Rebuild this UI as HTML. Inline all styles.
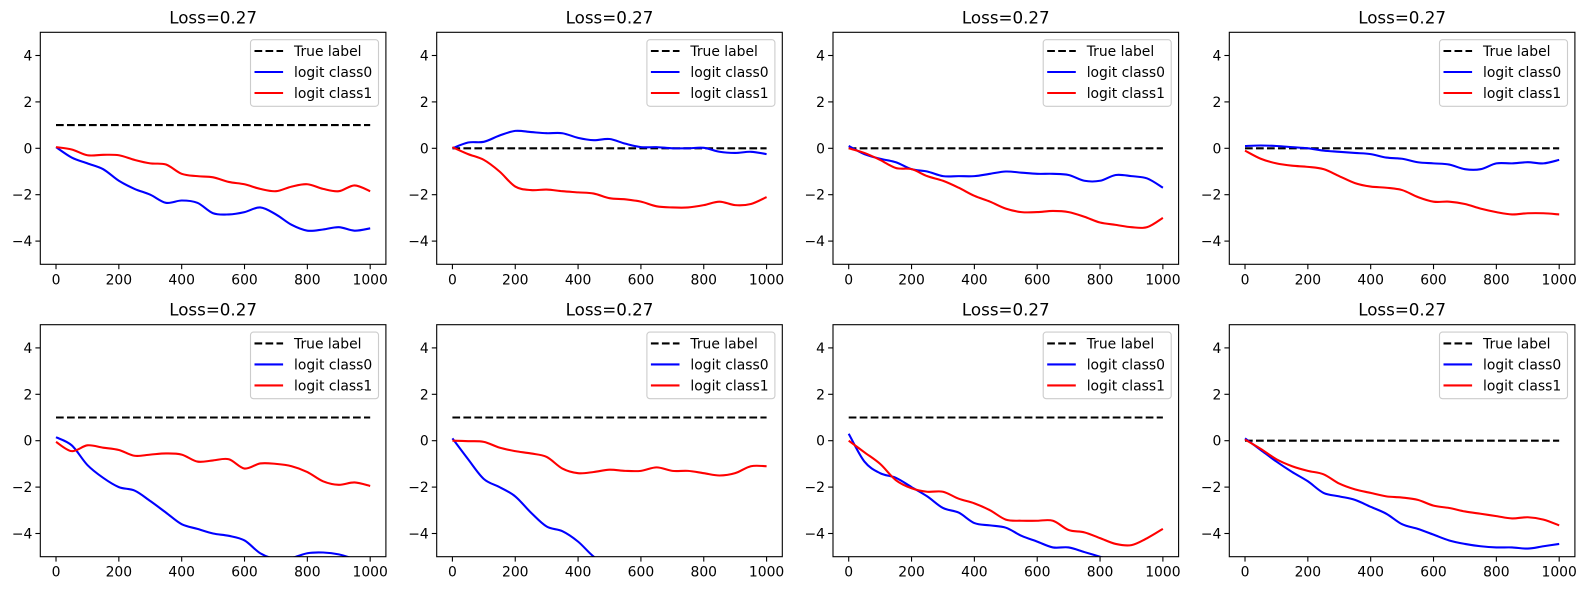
<!DOCTYPE html>
<html><head><meta charset="utf-8"><style>
html,body{margin:0;padding:0;background:#fff;width:1586px;height:590px;overflow:hidden;}
svg{display:block;overflow:hidden;font-family:"DejaVu Sans","Liberation Sans",sans-serif;}
</style></head><body>
<svg id="fig" width="1586" height="590" viewBox="0 0 1586 590" xmlns="http://www.w3.org/2000/svg"></svg>
<script>
const xSteps = [0,50,100,150,200,250,300,350,400,450,500,550,600,650,700,750,800,850,900,950,1000];
const xTicks = [0,200,400,600,800,1000];
const yTicks = [-4,-2,0,2,4];
const titles = ["Loss=0.27","Loss=0.27","Loss=0.27","Loss=0.27","Loss=0.27","Loss=0.27","Loss=0.27","Loss=0.27"];
const trueLabels = [1,0,0,0,1,1,1,0];
const class0 = [
 [0.05,-0.4,-0.65,-0.9,-1.4,-1.75,-2.0,-2.35,-2.25,-2.35,-2.8,-2.85,-2.75,-2.55,-2.85,-3.3,-3.55,-3.5,-3.4,-3.55,-3.45],
 [0,0.25,0.28,0.55,0.75,0.7,0.65,0.65,0.45,0.35,0.4,0.2,0.05,0.05,0.0,0.0,0.02,-0.15,-0.2,-0.15,-0.25],
 [0.1,-0.25,-0.45,-0.6,-0.9,-1.0,-1.2,-1.2,-1.2,-1.1,-1.0,-1.05,-1.1,-1.1,-1.15,-1.4,-1.4,-1.15,-1.2,-1.3,-1.7],
 [0.1,0.12,0.1,0.05,0.0,-0.1,-0.15,-0.2,-0.25,-0.4,-0.45,-0.6,-0.65,-0.7,-0.9,-0.9,-0.65,-0.65,-0.6,-0.65,-0.5],
 [0.15,-0.2,-1.05,-1.6,-2.0,-2.15,-2.6,-3.1,-3.6,-3.8,-4.0,-4.1,-4.3,-4.85,-5.1,-5.05,-4.85,-4.82,-4.9,-5.1,-5.3],
 [0.1,-0.8,-1.65,-2.0,-2.4,-3.1,-3.7,-3.9,-4.35,-5.0,-5.4,-5.6,-5.7,-5.8,-5.9,-6.0,-6.0,-6.0,-6.0,-6.0,-6.0],
 [0.3,-0.9,-1.4,-1.6,-2.0,-2.4,-2.9,-3.1,-3.55,-3.65,-3.75,-4.1,-4.35,-4.6,-4.6,-4.8,-5.0,-5.2,-5.4,-5.6,-5.8],
 [0.1,-0.4,-0.9,-1.35,-1.75,-2.25,-2.4,-2.55,-2.85,-3.15,-3.6,-3.8,-4.05,-4.3,-4.45,-4.55,-4.6,-4.6,-4.65,-4.55,-4.45]
];
const class1 = [
 [0.05,-0.05,-0.3,-0.28,-0.3,-0.5,-0.65,-0.7,-1.1,-1.2,-1.25,-1.45,-1.55,-1.75,-1.85,-1.65,-1.55,-1.75,-1.85,-1.6,-1.85],
 [0.05,-0.25,-0.5,-1.0,-1.65,-1.8,-1.78,-1.85,-1.9,-1.95,-2.15,-2.2,-2.3,-2.5,-2.55,-2.55,-2.45,-2.3,-2.45,-2.4,-2.1],
 [0,-0.2,-0.5,-0.85,-0.9,-1.2,-1.4,-1.7,-2.05,-2.3,-2.6,-2.75,-2.75,-2.7,-2.75,-2.95,-3.2,-3.3,-3.4,-3.4,-3.0],
 [-0.1,-0.45,-0.65,-0.75,-0.8,-0.9,-1.2,-1.5,-1.65,-1.7,-1.8,-2.1,-2.3,-2.3,-2.4,-2.6,-2.75,-2.85,-2.8,-2.8,-2.85],
 [-0.05,-0.45,-0.2,-0.3,-0.4,-0.65,-0.6,-0.55,-0.6,-0.9,-0.85,-0.8,-1.2,-0.98,-1.0,-1.1,-1.35,-1.75,-1.9,-1.8,-1.95],
 [0,-0.02,-0.05,-0.3,-0.45,-0.55,-0.7,-1.2,-1.4,-1.35,-1.25,-1.3,-1.3,-1.15,-1.3,-1.3,-1.4,-1.5,-1.4,-1.1,-1.1],
 [0,-0.5,-1.0,-1.7,-2.05,-2.2,-2.2,-2.5,-2.7,-3.0,-3.4,-3.45,-3.45,-3.45,-3.85,-3.95,-4.2,-4.45,-4.5,-4.2,-3.8],
 [0.05,-0.35,-0.8,-1.1,-1.3,-1.45,-1.85,-2.1,-2.25,-2.4,-2.45,-2.55,-2.8,-2.9,-3.05,-3.15,-3.25,-3.35,-3.3,-3.4,-3.65]
];

const NS = "http://www.w3.org/2000/svg";
const fig = document.getElementById('fig');
function mk(tag, attrs, parent){ const e=document.createElementNS(NS,tag); for(const k in attrs) e.setAttribute(k,attrs[k]); (parent||fig).appendChild(e); return e; }
const colLeft = [40.3,436.7,833.0,1229.3];
const rowTop = [32.3,324.7];
const W = 345.6, H = 232;
const defs = mk('defs',{});

function smoothPath(pts){
  let d = `M${pts[0][0].toFixed(2)},${pts[0][1].toFixed(2)}`;
  for(let i=0;i<pts.length-1;i++){
    const p0=pts[Math.max(i-1,0)], p1=pts[i], p2=pts[i+1], p3=pts[Math.min(i+2,pts.length-1)];
    const c1=[p1[0]+(p2[0]-p0[0])/6, p1[1]+(p2[1]-p0[1])/6];
    const c2=[p2[0]-(p3[0]-p1[0])/6, p2[1]-(p3[1]-p1[1])/6];
    d += ` C${c1[0].toFixed(2)},${c1[1].toFixed(2)} ${c2[0].toFixed(2)},${c2[1].toFixed(2)} ${p2[0].toFixed(2)},${p2[1].toFixed(2)}`;
  }
  return d;
}

for(let p=0;p<8;p++){
  const L = colLeft[p%4], T = rowTop[Math.floor(p/4)];
  const sx = v => L + (v+50)/1100*W;
  const sy = v => T + (5-v)/10*H;
  const g = mk('g',{});
  
  
  const cp = mk('clipPath',{id:'clip'+p},defs);
  mk('rect',{x:L,y:T,width:W,height:H},cp);

  const title = mk('text',{x:L+W/2,y:T-9,'text-anchor':'middle','font-size':'16.7px',fill:'#000'},g);
  title.textContent = titles[p];
  
  

  xTicks.forEach(t=>{
    const x=sx(t);
    mk('line',{x1:x,y1:T+H,x2:x,y2:T+H+4.9,stroke:'#000','stroke-width':1.1},g);
    const tx = mk('text',{x:x,y:T+H+20,'text-anchor':'middle','font-size':'13.9px',fill:'#000'},g);
    tx.textContent = t;
    
    
  });
  yTicks.forEach(t=>{
    const y=sy(t);
    mk('line',{x1:L-4.9,y1:y,x2:L,y2:y,stroke:'#000','stroke-width':1.1},g);
    const ty = mk('text',{x:L-8,y:y+5,'text-anchor':'end','font-size':'13.9px',fill:'#000'},g);
    ty.textContent = t<0 ? '\u2212'+Math.abs(t) : String(t);
    
    
  });

  const plot = mk('g',{'clip-path':`url(#clip${p})`},g);
  const tl = mk('line',{x1:sx(0),y1:sy(trueLabels[p]),x2:sx(1000),y2:sy(trueLabels[p]),stroke:'#000','stroke-width':2.08,'stroke-dasharray':'7.7 3.3'},plot);
  
  
  const b = mk('path',{d:smoothPath(xSteps.map((x,i)=>[sx(x),sy(class0[p][i])])),fill:'none',stroke:'#0000ff','stroke-width':2.08,'stroke-linejoin':'round'},plot);
  
  
  const r = mk('path',{d:smoothPath(xSteps.map((x,i)=>[sx(x),sy(class1[p][i])])),fill:'none',stroke:'#ff0000','stroke-width':2.08,'stroke-linejoin':'round'},plot);
  
  

  mk('rect',{x:L,y:T,width:W,height:H,fill:'none',stroke:'#000','stroke-width':1.1},g);

  const lg = mk('g',{},g);
  
  
  const lx = L+W-135.4, ly = T+7.4;
  mk('rect',{x:lx,y:ly,width:128,height:66.6,rx:3,fill:'#fff','fill-opacity':0.8,stroke:'#cccccc','stroke-width':1.1},lg);
  const items=[['True label','#000',true],['logit class0','#0000ff',false],['logit class1','#ff0000',false]];
  items.forEach((it,i)=>{
    const yy = ly+11.3+i*21;
    const ln = mk('line',{x1:lx+4,y1:yy,x2:lx+32.6,y2:yy,stroke:it[1],'stroke-width':2.08},lg);
    if(it[2]) ln.setAttribute('stroke-dasharray','7.7 3.3');
    const t = mk('text',{x:lx+43.5,y:yy+5,'font-size':'13.9px',fill:'#000'},lg);
    t.textContent = it[0];
    
    
  });
}
</script>
</body></html>
